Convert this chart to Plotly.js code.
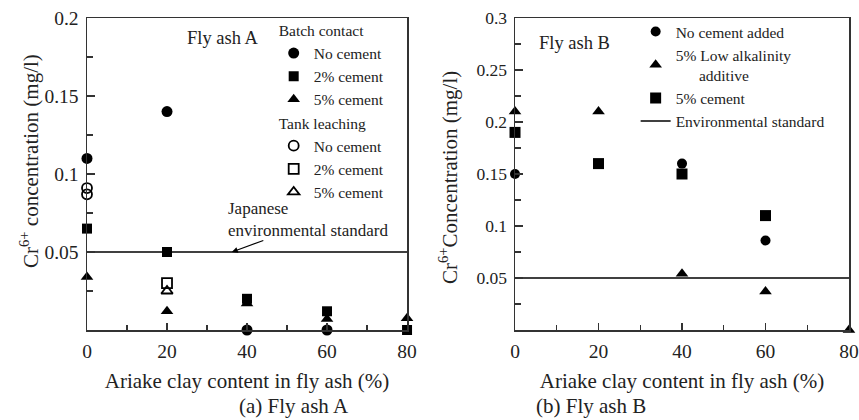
<!DOCTYPE html>
<html>
<head>
<meta charset="utf-8">
<script src="https://cdn.plot.ly/plotly-3.0.1.min.js"></script>
<style>html,body{margin:0;padding:0;background:#fff;}#chart{width:859px;height:420px;}</style>
</head>
<body>
<div id="chart"></div>
<script>
// ---- Data (Fly ash A) ----
const clayA = [0, 20, 40, 60, 80];
const batchNoCementX = [0, 20, 40, 60];
const batchNoCement = [0.11, 0.14, 0, 0];
const batch2Cement = [0.065, 0.05, 0.02, 0.012, 0];
const batch5Cement = [0.034, 0.012, 0.017, 0.007, 0.0075];
const tankNoCementX = [0, 0];
const tankNoCement = [0.091, 0.087];
const tank2CementX = [20];
const tank2Cement = [0.03];
const tank5CementX = [20];
const tank5Cement = [0.025];

// ---- Data (Fly ash B) ----
const clayB = [0, 20, 40, 60, 80];
const noCementAddedB = [0.15, null, 0.16, 0.086, null];
const lowAlkalinityB = [0.21, 0.21, 0.054, 0.037, 0];
const cement5B = [0.19, 0.16, 0.15, 0.11, null];

const envStandard = 0.05;
const xRangeEnds = [0, 80];

const xTickVals = [0, 20, 40, 60, 80];
const yTickValsA = [0.05, 0.1, 0.15, 0.2];
const yTickTextA = ['0.05', '0.1', '0.15', '0.2'];
const yTickValsB = [0.05, 0.1, 0.15, 0.2, 0.25, 0.3];
const yTickTextB = ['0.05', '0.1', '0.15', '0.2', '0.25', '0.3'];

const FONT = 'Liberation Serif';
const K = '#000';
const AX = '#333';
const TX = '#222';

function mk(symbol, size, open) {
  return open ? {symbol: symbol, size: size, color: K, line: {color: K, width: 1.8}}
              : {symbol: symbol, size: size, color: K, line: {width: 0}};
}

const traces = [
  // Left
  {x: batchNoCementX, y: batchNoCement, mode: 'markers', name: 'No cement', marker: mk('circle', 11),
   xaxis: 'x', yaxis: 'y', legend: 'legend', legendgroup: 'batch', legendgrouptitle: {text: 'Batch contact', font: {family: FONT, size: 15.5, color: TX}}, cliponaxis: false},
  {x: clayA, y: batch2Cement, mode: 'markers', name: '2% cement', marker: mk('square', 10),
   xaxis: 'x', yaxis: 'y', legend: 'legend', legendgroup: 'batch', cliponaxis: false},
  {x: clayA, y: batch5Cement, mode: 'markers', name: '5% cement', marker: mk('triangle-up', 11),
   xaxis: 'x', yaxis: 'y', legend: 'legend', legendgroup: 'batch', cliponaxis: false},
  {x: tankNoCementX, y: tankNoCement, mode: 'markers', name: 'No cement', marker: mk('circle-open', 10, true),
   xaxis: 'x', yaxis: 'y', legend: 'legend', legendgroup: 'tank', legendgrouptitle: {text: 'Tank leaching', font: {family: FONT, size: 15.5, color: TX}}, cliponaxis: false},
  {x: tank2CementX, y: tank2Cement, mode: 'markers', name: '2% cement', marker: mk('square-open', 10, true),
   xaxis: 'x', yaxis: 'y', legend: 'legend', legendgroup: 'tank', cliponaxis: false},
  {x: tank5CementX, y: tank5Cement, mode: 'markers', name: '5% cement', marker: mk('triangle-up-open', 10, true),
   xaxis: 'x', yaxis: 'y', legend: 'legend', legendgroup: 'tank', cliponaxis: false},
  {x: xRangeEnds, y: xRangeEnds.map(() => envStandard), mode: 'lines', line: {color: K, width: 1.5},
   xaxis: 'x', yaxis: 'y', showlegend: false, hoverinfo: 'skip'},
  // Right
  {x: clayB, y: noCementAddedB, mode: 'markers', name: 'No cement added', marker: mk('circle', 10),
   xaxis: 'x2', yaxis: 'y2', legend: 'legend2', cliponaxis: false},
  {x: clayB, y: lowAlkalinityB, mode: 'markers', name: '5% Low alkalinity<br>&nbsp;&nbsp;&nbsp;&nbsp;&nbsp;&nbsp;additive', marker: mk('triangle-up', 11),
   xaxis: 'x2', yaxis: 'y2', legend: 'legend2', cliponaxis: false},
  {x: clayB, y: cement5B, mode: 'markers', name: '5% cement', marker: mk('square', 11),
   xaxis: 'x2', yaxis: 'y2', legend: 'legend2', cliponaxis: false},
  {x: xRangeEnds, y: xRangeEnds.map(() => envStandard), mode: 'lines', name: 'Environmental standard', line: {color: K, width: 1.5},
   xaxis: 'x2', yaxis: 'y2', legend: 'legend2', hoverinfo: 'skip'}
];

function xax(domain, anchor) {
  return {
    domain: domain, anchor: anchor, range: [0, 80], tickmode: 'array', tickvals: xTickVals,
    ticks: 'inside', ticklen: 7, tickwidth: 1.2, tickcolor: AX, ticklabelstandoff: 3,
    minor: {tickmode: 'linear', tick0: 0, dtick: 10, ticks: 'inside', ticklen: 5, tickwidth: 1.2, tickcolor: AX},
    showline: true, linecolor: AX, linewidth: 1.5, mirror: true, showgrid: false, zeroline: false,
    tickfont: {family: FONT, size: 19.5, color: TX},
    title: {text: 'Ariake clay content in fly ash (%)', font: {family: FONT, size: 21, color: TX}, standoff: 12}
  };
}
function yax(anchor, range, vals, text, fs) {
  return {
    anchor: anchor, domain: [0, 1], range: range, tickmode: 'array', tickvals: vals, ticktext: text,
    ticks: 'inside', ticklen: 8, tickwidth: 1.2, tickcolor: AX, ticklabelstandoff: 3,
    minor: {tickmode: 'linear', tick0: 0, dtick: 0.025, ticks: 'inside', ticklen: 6, tickwidth: 1.2, tickcolor: AX},
    showline: true, linecolor: AX, linewidth: 1.5, mirror: true, showgrid: false, zeroline: false,
    tickfont: {family: FONT, size: fs, color: TX}
  };
}

const layout = {
  width: 859, height: 420,
  margin: {l: 87, r: 10, t: 17.5, b: 89.5},
  paper_bgcolor: '#fff', plot_bgcolor: '#fff',
  font: {family: FONT, color: TX, size: 17},
  showlegend: true,
  xaxis: xax([0, 0.42], 'y'),
  yaxis: yax('x', [0, 0.2], yTickValsA, yTickTextA, 19.5),
  xaxis2: xax([0.5617, 1], 'y2'),
  yaxis2: yax('x2', [0, 0.3], yTickValsB, yTickTextB, 17.5),
  legend: {x: 0.245, y: 1.015, xanchor: 'left', yanchor: 'top', bgcolor: 'rgba(0,0,0,0)',
           font: {family: FONT, size: 15.5, color: TX}, tracegroupgap: 0, traceorder: 'grouped', itemwidth: 30},
  legend2: {x: 0.72, y: 1.01, xanchor: 'left', yanchor: 'top', bgcolor: 'rgba(0,0,0,0)',
            font: {family: FONT, size: 15.5, color: TX}, itemwidth: 30},
  annotations: [
    {xref: 'paper', yref: 'paper', x: -0.0761, y: 0.5415, text: 'Cr<sup>6+</sup> concentration (mg/l)', textangle: -90,
     showarrow: false, xanchor: 'center', yanchor: 'middle', font: {size: 21}},
    {xref: 'paper', yref: 'paper', x: 0.4738, y: 0.487, text: 'Cr<sup>6+</sup>Concentration (mg/l)', textangle: -90,
     showarrow: false, xanchor: 'center', yanchor: 'middle', font: {size: 21}},
    {xref: 'x', yref: 'y', x: 33.9, y: 0.1875, text: 'Fly ash A', showarrow: false, font: {size: 18.5}},
    {xref: 'x2', yref: 'y2', x: 5.3, y: 0.276, text: 'Fly ash B', showarrow: false, font: {size: 18.5}, xanchor: 'left'},
    {xref: 'x', yref: 'y', x: 34.7, y: 0.0706, text: 'Japanese<br>environmental standard', showarrow: false,
     xanchor: 'left', yanchor: 'middle', align: 'left', font: {size: 17}},
    {xref: 'x', yref: 'y', x: 36.2, y: envStandard, axref: 'pixel', ayref: 'pixel', ax: 33, ay: -12, text: '',
     showarrow: true, arrowhead: 2, arrowsize: 1, arrowwidth: 1.2, arrowcolor: K},
    {xref: 'paper', yref: 'paper', x: 0.1965, y: -0.2444, text: '(a) Fly ash A', showarrow: false, yanchor: 'middle', font: {size: 21}},
    {xref: 'paper', yref: 'paper', x: 0.736, y: -0.2444, text: '(b) Fly ash B', showarrow: false, yanchor: 'middle', font: {size: 21}}
  ]
};

Plotly.newPlot('chart', traces, layout, {staticPlot: true, displayModeBar: false});
</script>
</body>
</html>
